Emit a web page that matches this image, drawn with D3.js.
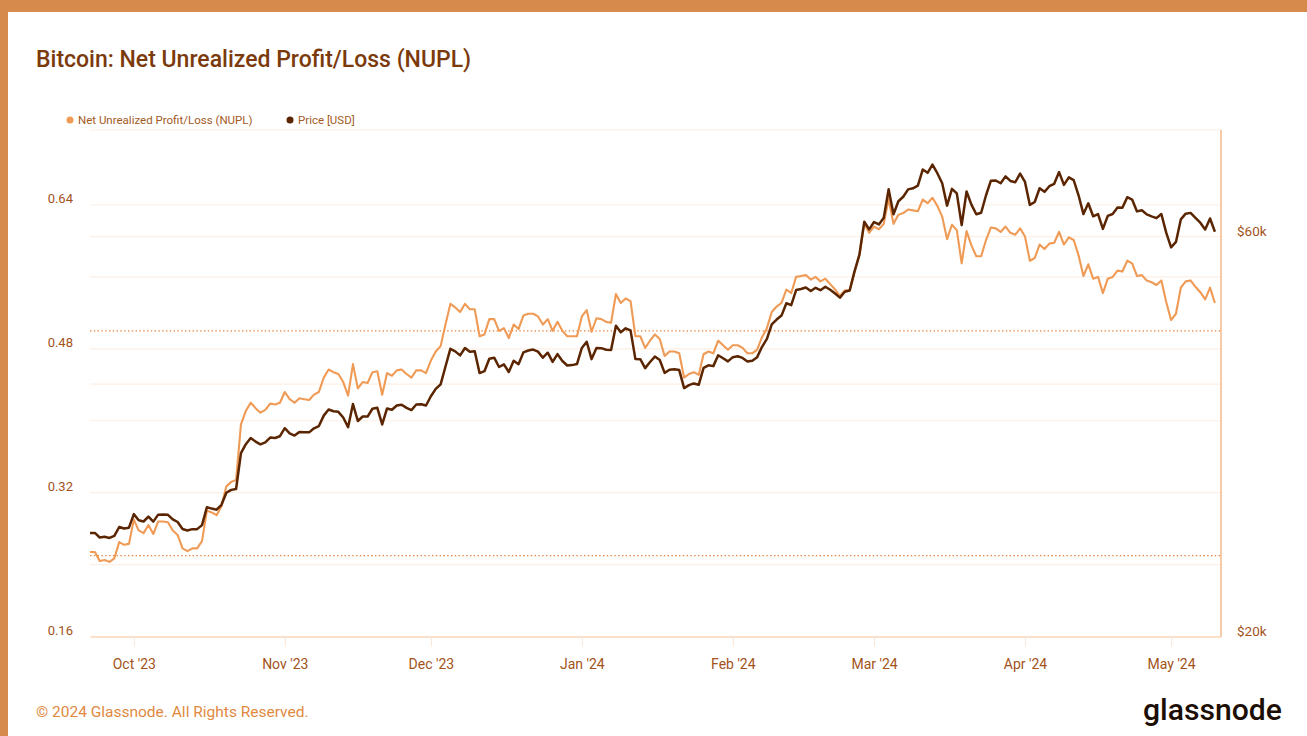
<!DOCTYPE html>
<html>
<head>
<meta charset="utf-8">
<script src="https://cdn.jsdelivr.net/npm/d3@7"></script>
<style>
  html, body { margin: 0; padding: 0; background: #fff; }
  svg { display: block; font-family: Roboto, "Noto Sans", sans-serif; }
</style>
</head>
<body>
<svg id="chart" width="1307" height="736"></svg>
<script>
/* Bitcoin NUPL vs price, daily, 22 Sep 2023 – 10 May 2024 */

var firstDay = Date.UTC(2023, 8, 22);
var lastDay = Date.UTC(2024, 4, 10);

// NUPL, one value per day
var nupl = [
  0.254, 0.254, 0.244, 0.245, 0.243, 0.247, 0.265, 0.262, 0.263,
  0.290, 0.278, 0.275, 0.284, 0.274, 0.288, 0.288, 0.287, 0.278, 0.273,
  0.258, 0.255, 0.258, 0.258, 0.266, 0.300, 0.298, 0.295, 0.305, 0.327,
  0.332, 0.334, 0.396, 0.411, 0.420, 0.414, 0.409, 0.412, 0.419, 0.418, 0.420,
  0.432, 0.424, 0.420, 0.425, 0.424, 0.423, 0.429, 0.432, 0.448, 0.457,
  0.454, 0.452, 0.443, 0.428, 0.463, 0.436, 0.443, 0.442, 0.454, 0.455,
  0.429, 0.453, 0.450, 0.456, 0.457, 0.452, 0.448, 0.456, 0.456, 0.453,
  0.467, 0.477, 0.483, 0.507, 0.530, 0.526, 0.521, 0.530, 0.524, 0.524,
  0.494, 0.496, 0.513, 0.513, 0.500, 0.503, 0.492, 0.507, 0.502, 0.517,
  0.519, 0.519, 0.516, 0.507, 0.513, 0.500, 0.510, 0.500, 0.494, 0.494, 0.494,
  0.516, 0.523, 0.499, 0.514, 0.513, 0.510, 0.509, 0.541, 0.531, 0.536,
  0.533, 0.494, 0.494, 0.481, 0.489, 0.496, 0.491, 0.472, 0.477, 0.477,
  0.475, 0.448, 0.452, 0.454, 0.451, 0.474, 0.477, 0.475, 0.489, 0.484, 0.479,
  0.484, 0.484, 0.481, 0.475, 0.475, 0.479, 0.493, 0.503, 0.521, 0.527,
  0.531, 0.546, 0.542, 0.560, 0.561, 0.562, 0.557, 0.560, 0.555, 0.558,
  0.552, 0.546, 0.539, 0.545, 0.545, 0.566, 0.584, 0.619, 0.609,
  0.616, 0.613, 0.619, 0.647, 0.619, 0.629, 0.631, 0.635, 0.634, 0.633,
  0.646, 0.642, 0.648, 0.639, 0.627, 0.602, 0.618, 0.612, 0.575, 0.611,
  0.595, 0.583, 0.583, 0.601, 0.615, 0.614, 0.610, 0.616, 0.609, 0.607, 0.614,
  0.605, 0.578, 0.581, 0.596, 0.591, 0.597, 0.598, 0.610, 0.596, 0.604,
  0.601, 0.584, 0.561, 0.574, 0.558, 0.560, 0.542, 0.558, 0.560, 0.567,
  0.566, 0.578, 0.575, 0.561, 0.562, 0.556, 0.554, 0.551, 0.556, 0.532,
  0.512, 0.519, 0.548, 0.555, 0.556, 0.549, 0.543, 0.535, 0.548, 0.531
];

// BTC price in USD, one value per day
var price = [
  26580, 26580, 26250, 26300, 26220, 26370, 27020, 26910, 26970,
  27990, 27530, 27430, 27800, 27420, 27950, 27970, 27940, 27590, 27390,
  26870, 26760, 26860, 26860, 27160, 28520, 28420, 28330, 28720, 29680,
  29920, 29990, 33090, 33920, 34500, 34160, 33910, 34090, 34540, 34500, 34670,
  35440, 34940, 34730, 35080, 35050, 35040, 35430, 35650, 36690, 37310,
  37130, 37070, 36500, 35540, 37880, 36150, 36600, 36590, 37390, 37480,
  35810, 37420, 37290, 37720, 37800, 37480, 37250, 37830, 37860, 37720,
  38690, 39480, 39980, 41990, 44080, 43770, 43290, 44170, 43720, 43790,
  41240, 41450, 42890, 43020, 41930, 42240, 41360, 42660, 42260, 43650,
  43870, 43990, 43740, 43020, 43610, 42520, 43440, 42630, 42100, 42150, 42270,
  44180, 44940, 42850, 44180, 44160, 43970, 43930, 46970, 46120, 46630,
  46370, 42850, 42840, 41800, 42510, 43150, 42740, 41260, 41620, 41660,
  41580, 39570, 39900, 40080, 39930, 41820, 42120, 42030, 43300, 42950, 42580,
  43080, 43190, 42990, 42580, 42660, 43080, 44320, 45300, 47150, 47770,
  48290, 49960, 49700, 51800, 51940, 52160, 51660, 52120, 51780, 52280,
  51840, 51300, 50730, 51570, 51730, 54520, 57090, 62500, 61200,
  62440, 62030, 63170, 68330, 63800, 66110, 66930, 68300, 68500, 69020,
  72120, 71480, 73100, 71400, 69450, 65320, 68390, 67550, 61910, 67910,
  65490, 63780, 64060, 67210, 69960, 69990, 69460, 70780, 69900, 69650, 71330,
  69700, 65450, 65980, 68510, 67840, 68900, 69360, 71620, 69140, 70590,
  70060, 67200, 63820, 65740, 63430, 63810, 61280, 63510, 63840, 64990,
  64930, 66840, 66410, 64290, 64500, 63760, 63420, 63110, 63840, 60640,
  58250, 59120, 62890, 63890, 64030, 63160, 62330, 61190, 63050, 60790
];

var nuplLabels = [0.16, 0.32, 0.48, 0.64];
var nuplGrid = [0.16, 0.24, 0.32, 0.40, 0.48, 0.56, 0.64];
var priceLabels = [20000, 60000];
var priceGrid = [40000, 60000];
var zoneLines = [0.25, 0.5];
var seriesNames = ['Net Unrealized Profit/Loss (NUPL)', 'Price [USD]'];

var C = {
  frame: '#d68b4c',
  title: '#7b3a0c',
  text: '#a3531a',
  grid: '#fdefe3',
  zone: '#e7823a',
  axis: '#f2a66b',
  base: '#fbd8bd',
  nupl: '#ef9a55',
  price: '#5a2500',
  footer: '#e0893f',
  logo: '#1c0e04'
};

var svg = d3.select('#chart');

// orange frame on top and left
svg.append('rect').attr('x', 0).attr('y', 0).attr('width', 1307).attr('height', 12).attr('fill', C.frame);
svg.append('rect').attr('x', 0).attr('y', 0).attr('width', 8).attr('height', 736).attr('fill', C.frame);

svg.append('text')
  .attr('x', 36).attr('y', 67)
  .attr('font-size', '23px').attr('font-weight', 500)
  .attr('fill', C.title)
  .text('Bitcoin: Net Unrealized Profit/Loss (NUPL)');

// legend
var legendX = [70, 290];
var legendColor = [C.nupl, C.price];
seriesNames.forEach(function(name, i) {
  svg.append('circle').attr('cx', legendX[i]).attr('cy', 120).attr('r', 3.5).attr('fill', legendColor[i]);
  svg.append('text')
    .attr('x', legendX[i] + 8).attr('y', 120)
    .attr('dominant-baseline', 'central')
    .attr('font-size', '11.5px')
    .attr('fill', '#a45a1f')
    .text(name);
});

var dates = d3.utcDay.range(new Date(firstDay), new Date(lastDay + 864e5));

var plotL = 90, plotR = 1221, plotT = 130, plotB = 636.5;

var x = d3.scaleUtc()
  .domain([new Date(firstDay), new Date(Date.UTC(2024, 4, 11, 6))])
  .range([plotL, plotR]);

var yL = d3.scaleLinear().domain([0.16, 0.7234]).range([plotB, plotT]);
var yR = d3.scaleLog().domain([20000, 80400]).range([plotB, plotT]);

// faint gridlines
var gridYs = [plotT].concat(nuplGrid.map(yL), priceGrid.map(yR));
svg.append('g').selectAll('line')
  .data(gridYs)
  .enter().append('line')
  .attr('x1', plotL).attr('x2', plotR)
  .attr('y1', function(d) { return d; }).attr('y2', function(d) { return d; })
  .attr('stroke', C.grid).attr('stroke-width', 1.2);

// NUPL zone thresholds
svg.append('g').selectAll('line')
  .data(zoneLines)
  .enter().append('line')
  .attr('x1', plotL).attr('x2', plotR)
  .attr('y1', function(d) { return yL(d); }).attr('y2', function(d) { return yL(d); })
  .attr('stroke', C.zone).attr('stroke-width', 1.4)
  .attr('stroke-dasharray', '1.4,2.4');

// x axis
var xAxis = svg.append('g')
  .attr('transform', 'translate(0,' + plotB + ')')
  .call(d3.axisBottom(x)
    .ticks(d3.utcMonth.every(1))
    .tickFormat(d3.utcFormat("%b '%y"))
    .tickSize(10)
    .tickSizeOuter(0)
    .tickPadding(13));
xAxis.select('.domain').attr('stroke', C.base).attr('stroke-width', 1.5);
xAxis.selectAll('.tick line').attr('stroke', '#fce4d2');
xAxis.selectAll('.tick text')
  .attr('fill', C.text)
  .attr('font-size', '14px')
  .attr('font-family', 'Roboto, sans-serif');

// right axis line
svg.append('line')
  .attr('x1', plotR).attr('x2', plotR)
  .attr('y1', plotT).attr('y2', plotB)
  .attr('stroke', C.axis).attr('stroke-width', 1.2);

// left labels
svg.append('g').selectAll('text')
  .data(nuplLabels)
  .enter().append('text')
  .attr('x', 73)
  .attr('y', function(d) { return yL(d) - 6; })
  .attr('text-anchor', 'end')
  .attr('dominant-baseline', 'central')
  .attr('font-size', '13px')
  .attr('fill', C.text)
  .text(function(d) { return d.toFixed(2); });

// right labels
svg.append('g').selectAll('text')
  .data(priceLabels)
  .enter().append('text')
  .attr('x', 1237)
  .attr('y', function(d) { return yR(d) - 6; })
  .attr('dominant-baseline', 'central')
  .attr('font-size', '13.5px')
  .attr('fill', C.text)
  .text(function(d) { return '$' + (d / 1000) + 'k'; });

// series
var nuplLine = d3.line()
  .x(function(d, i) { return x(dates[i]); })
  .y(function(d) { return yL(d); });

var priceLine = d3.line()
  .x(function(d, i) { return x(dates[i]); })
  .y(function(d) { return yR(d); });

svg.append('path')
  .datum(nupl)
  .attr('d', nuplLine)
  .attr('fill', 'none')
  .attr('stroke', C.nupl)
  .attr('stroke-width', 2.1)
  .attr('stroke-linejoin', 'round');

svg.append('path')
  .datum(price)
  .attr('d', priceLine)
  .attr('fill', 'none')
  .attr('stroke', C.price)
  .attr('stroke-width', 2.5)
  .attr('stroke-linejoin', 'round');

// footer
svg.append('text')
  .attr('x', 36).attr('y', 712)
  .attr('dominant-baseline', 'central')
  .attr('font-size', '15.5px')
  .attr('fill', C.footer)
  .text('\u00a9 2024 Glassnode. All Rights Reserved.');

svg.append('text')
  .attr('x', 1143).attr('y', 720)
  .attr('font-size', '29px').attr('font-weight', 500)
  .attr('textLength', 139).attr('lengthAdjust', 'spacingAndGlyphs')
  .attr('fill', C.logo)
  .text('glassnode');
</script>
</body>
</html>
